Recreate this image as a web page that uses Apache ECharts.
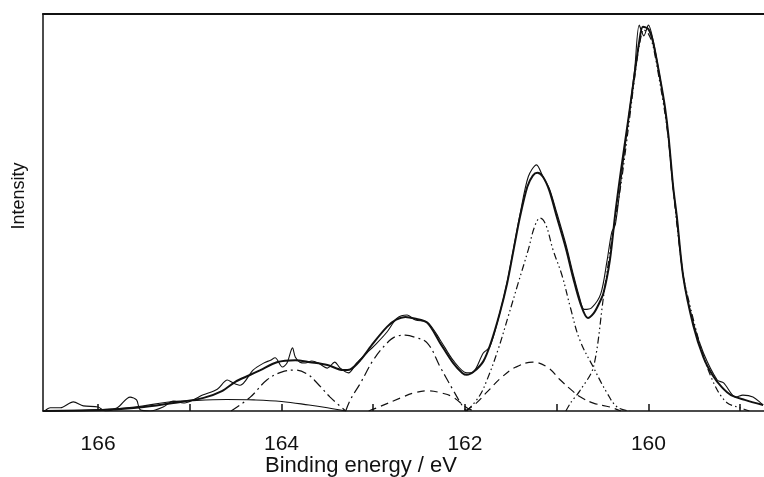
<!DOCTYPE html>
<html><head><meta charset="utf-8">
<script src="https://cdn.jsdelivr.net/npm/echarts@6/dist/echarts.min.js"></script>
<style>html,body{margin:0;padding:0;background:#fff}#c{width:764px;height:477px}</style>
</head><body><div id="c"></div>
<script>
// Binding energy axis (eV), reversed
const xMin = 158.74, xMax = 166.6;
const xTickValues = [159, 160, 161, 162, 163, 164, 165, 166];
const xLabelValues = [160, 162, 164, 166];
const xTitle = 'Binding energy / eV';
const yTitle = 'Intensity';

// [binding energy, intensity]
const measured = [[166.58,0],[166.52,0.8],[166.41,0.8],[166.27,2.3],[166.16,1.3],[166.0,1.0],[165.92,0],[165.79,0.8],[165.65,3.5],[165.58,2.8],[165.54,0.3],[165.43,0],[165.29,1.0],[165.18,2.5],[165.07,2.0],[164.96,2.8],[164.86,4.0],[164.7,5.5],[164.59,7.8],[164.53,7.1],[164.45,6.5],[164.31,10.3],[164.2,12],[164.12,12.8],[164.07,13.4],[163.99,11.1],[163.94,12.1],[163.88,15.9],[163.85,13.6],[163.8,12.3],[163.74,12.1],[163.67,12.6],[163.6,12.1],[163.5,10.8],[163.42,12.3],[163.36,10.8],[163.27,9.6],[163.18,12.1],[163.07,14.6],[162.96,17.1],[162.85,19.9],[162.74,23.4],[162.63,24.2],[162.54,22.9],[162.41,22.4],[162.27,17.9],[162.13,12.8],[161.98,9.6],[161.91,9.8],[161.8,14.6],[161.73,16.1],[161.62,24.7],[161.54,32.5],[161.47,41],[161.4,49.5],[161.31,59],[161.22,62],[161.15,59],[161.08,56],[161.0,50],[160.9,42],[160.82,34.5],[160.75,28.5],[160.7,25.6],[160.62,26],[160.52,29.5],[160.45,38],[160.4,45],[160.36,47],[160.3,58],[160.22,73],[160.15,86],[160.1,97.2],[160.05,94.5],[160.0,97.2],[159.95,93.5],[159.87,83.4],[159.82,76],[159.78,68.5],[159.73,56],[159.69,48.5],[159.62,33.8],[159.51,22.2],[159.4,14.6],[159.25,7.8],[159.18,7.1],[159.05,3.5],[158.97,4],[158.86,3.5],[158.75,1.5]];

const envelope = [[166.6,0],[165.9,0.3],[165.5,1.0],[165.18,2.0],[164.85,3.3],[164.65,5.0],[164.5,7.4],[164.35,9.0],[164.23,10.3],[164.05,12.3],[163.85,12.8],[163.69,12.3],[163.5,11.6],[163.33,10.3],[163.25,10.5],[163.14,12.8],[163.0,17.1],[162.85,21.2],[162.75,23.0],[162.65,23.7],[162.55,23.3],[162.41,22.2],[162.27,17.1],[162.13,12.1],[162.03,9.6],[161.98,9.1],[161.9,10.0],[161.8,12.5],[161.72,17.0],[161.62,24.7],[161.54,32.2],[161.47,40.6],[161.4,48.9],[161.32,56.5],[161.26,59.3],[161.21,60],[161.15,59],[161.08,55.5],[161.0,49],[160.9,41],[160.82,33.5],[160.74,27],[160.66,23.4],[160.6,24.5],[160.55,26.5],[160.49,29.7],[160.42,38],[160.36,50],[160.3,60.5],[160.22,73.3],[160.15,85],[160.1,93],[160.06,96.8],[160.0,96.2],[159.95,93],[159.87,83.4],[159.82,76.6],[159.78,69],[159.73,56.4],[159.69,48.9],[159.62,33.8],[159.51,21.5],[159.4,13.5],[159.3,9],[159.2,6],[159.1,4],[158.95,2.8],[158.75,1.5]];

const background = [[166.6,0],[166.0,0.3],[165.6,1.0],[165.25,2.2],[165.0,2.6],[164.6,2.9],[164.3,2.8],[164.0,2.4],[163.7,1.5],[163.5,0.8],[163.3,0]];

const peak160 = [[160.9,0],[160.85,2],[160.75,5],[160.6,11],[160.49,28.7],[160.4,43],[160.3,57],[160.22,71],[160.15,84],[160.1,92],[160.05,96],[160.0,95],[159.95,92],[159.87,82],[159.82,75],[159.78,68],[159.73,56],[159.69,47],[159.62,34],[159.58,29.7],[159.46,18.6],[159.36,11.1],[159.25,5.3],[159.14,2],[159.0,0.8],[158.9,0]];

const peak161a = [[161.98,0],[161.85,3.5],[161.76,7.8],[161.64,15.4],[161.53,23.7],[161.42,32.2],[161.31,40.6],[161.24,46.5],[161.18,48.6],[161.12,47],[161.04,40.6],[160.94,34],[160.85,26],[160.75,18],[160.6,11],[160.45,4.5],[160.34,1],[160.2,0]];

const peak161b = [[162.0,0],[161.9,1.5],[161.75,5],[161.6,8.5],[161.45,11],[161.26,12.3],[161.1,11],[160.96,7.8],[160.85,5.5],[160.74,3.5],[160.6,2],[160.42,1],[160.3,0]];

const peak162a = [[163.3,0],[163.25,2.8],[163.14,7],[163.0,12.8],[162.85,17.1],[162.75,18.8],[162.65,19.1],[162.55,18.6],[162.41,17.1],[162.27,11.1],[162.13,5.3],[162.02,1],[161.98,0]];

const peak162b = [[163.05,0],[162.96,0.8],[162.7,3.3],[162.55,4.6],[162.4,5.1],[162.25,4.5],[162.13,3.5],[161.98,0.8],[161.9,0]];

const peak164 = [[164.55,0],[164.34,3.5],[164.16,7.8],[164.0,9.8],[163.85,10.3],[163.72,9.3],[163.61,7],[163.47,3.5],[163.3,0]];

const ink = '#111';
const font = '"Liberation Sans", Arial, Helvetica, sans-serif';
const dashDotDot = [7, 3, 1.5, 3, 1.5, 3];
const dashDot = [10, 4, 2, 4];
const dashed = [8, 5];

function line(name, data, width, type, smooth) {
  return { name, type: 'line', data, showSymbol: false, symbol: 'none', smooth: smooth,
    lineStyle: { color: ink, width, type }, silent: true };
}

const chart = echarts.init(document.getElementById('c'), null, { renderer: 'canvas' });
chart.setOption({
  animation: false,
  backgroundColor: '#fff',
  grid: { left: 43, right: 0, top: 14, bottom: 66 },
  xAxis: [{
    type: 'value', inverse: true, min: xMin, max: xMax,
    axisLine: { show: true, lineStyle: { color: ink, width: 1.5 } },
    axisTick: { show: true, inside: true, length: 7, customValues: xTickValues, lineStyle: { color: ink, width: 1.5 } },
    axisLabel: { show: true, customValues: xLabelValues, margin: 23, fontSize: 21, fontFamily: font, color: ink },
    splitLine: { show: false }
  }, {
    type: 'value', inverse: true, min: xMin, max: xMax, position: 'top',
    axisLine: { show: true, onZero: false, lineStyle: { color: ink, width: 2 } },
    axisTick: { show: false }, axisLabel: { show: false }, splitLine: { show: false }
  }],
  yAxis: {
    type: 'value', min: 0, max: 100,
    axisLine: { show: true, lineStyle: { color: ink, width: 1.5 } },
    axisTick: { show: false }, axisLabel: { show: false }, splitLine: { show: false }
  },
  graphic: [
    { type: 'text', x: 361, y: 466, silent: true,
      style: { text: xTitle, font: '22px ' + font, fill: ink, textAlign: 'center', textVerticalAlign: 'middle', align: 'center', verticalAlign: 'middle' } },
    { type: 'text', x: 19, y: 196, rotation: Math.PI / 2, silent: true,
      style: { text: yTitle, font: '18px ' + font, fill: ink, textAlign: 'center', textVerticalAlign: 'middle', align: 'center', verticalAlign: 'middle' } }
  ],
  series: [
    line('background', background, 1.1, 'solid', 0.4),
    line('164', peak164, 1.2, dashDot, 0.4),
    line('162.65', peak162a, 1.2, dashDot, 0.4),
    line('162.4', peak162b, 1.2, dashed, 0.4),
    line('161.25', peak161b, 1.2, dashed, 0.4),
    line('161.2', peak161a, 1.2, dashDotDot, 0.4),
    line('160', peak160, 1.2, dashDotDot, 0.3),
    line('measured', measured, 1.1, 'solid', 0.3),
    line('envelope', envelope, 2, 'solid', 0.3)
  ]
});
</script>
</body></html>
